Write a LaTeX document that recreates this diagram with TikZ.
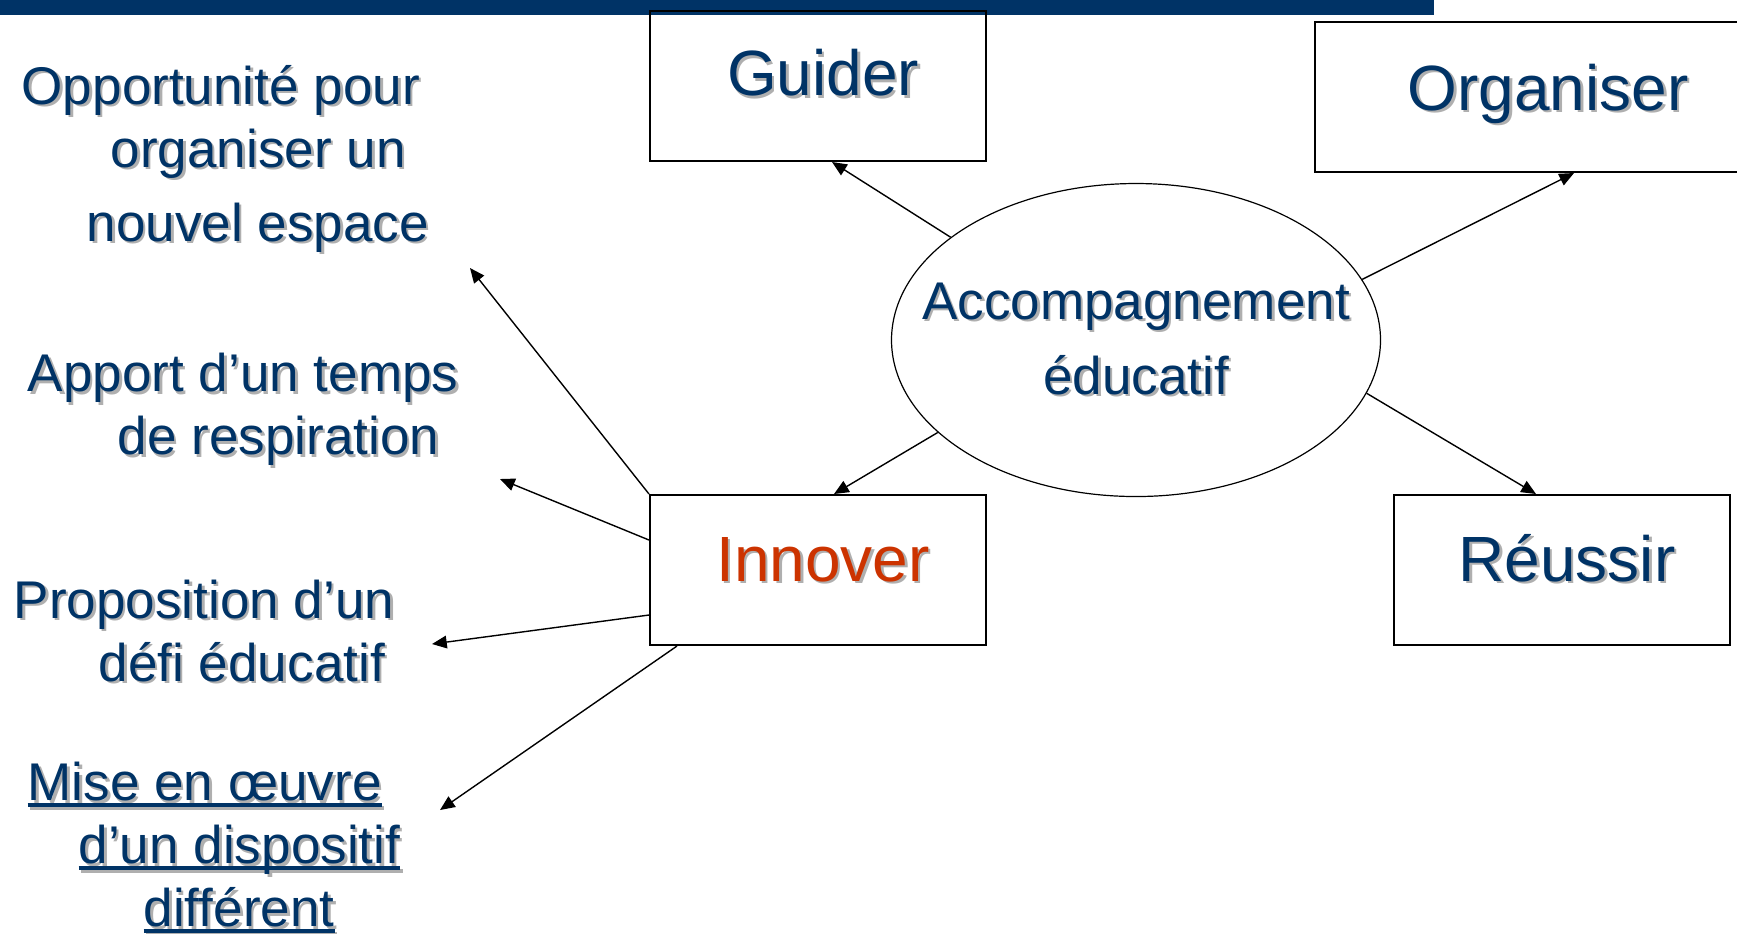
\documentclass[tikz,border=0pt]{standalone}
\usepackage{fontspec}
\setmainfont{Liberation Sans}
\usetikzlibrary{shapes.geometric,arrows.meta}
\definecolor{navy}{RGB}{0,51,102}
\definecolor{rouge}{RGB}{204,51,0}
\definecolor{ombre}{RGB}{175,175,175}
\newcommand\shd[1]{\leavevmode\rlap{\kern0.25mm\raisebox{-0.25mm}{\textcolor{ombre}{#1}}}#1}
\newcommand\souligne[1]{\setbox0\hbox{#1}\rlap{\rule[-0.12em]{\wd0}{0.07em}}\box0}
\begin{document}
\begin{tikzpicture}[x=0.1mm,y=-0.1mm,
    boite/.style={draw,line width=0.2mm,minimum width=33.6mm,minimum height=15mm,inner sep=0pt,text=navy,
        font=\fontsize{18.2pt}{20pt}\selectfont,text height=4.6mm,text depth=2.4mm,execute at begin node={\hspace*{1mm}}},
    texte/.style={align=left,anchor=west,inner sep=0pt,text=navy,font=\fontsize{15.1pt}{6.3mm}\selectfont},
    fleche/.style={-{Triangle[length=4.2pt,width=3.6pt]},line width=0.14mm}]
        \useasboundingbox (0,0) rectangle (1737,933);
        \fill[navy] (0,0) rectangle (1434,15); %bandeau
        \node[boite,text depth=2.7mm] (guider) at (818,86) {\shd{Guider}};
        \node[boite,minimum width=45.6mm,text depth=2mm] (organiser) at (1543,97) {\shd{Organiser}};
        \node[boite,text=rouge] (innover) at (818,570) {\shd{Innover}};
        \node[boite] (reussir) at (1562,570) {\shd{Réussir}};
        \node[ellipse,draw,line width=0.12mm,minimum width=48.9mm,minimum height=31.3mm,inner xsep=-6mm,inner ysep=-0.5mm,
            align=center,text=navy,font=\fontsize{15.1pt}{7.5mm}\selectfont] (accomp) at (1136,340)
            {\shd{Accompagnement}\\\shd{éducatif}}; %ellipse
        \draw[fleche] (accomp.151) -- ([xshift=1.4mm]guider.south);
        \draw[fleche] (accomp.15) -- ([xshift=3.1mm]organiser.south);
        \draw[fleche] (accomp.205) -- ([xshift=1.6mm]innover.north);
        \draw[fleche] (accomp.347) -- ([xshift=-2.6mm]reussir.north);
        % textes de gauche
        \node[texte] (opportunite) at (21,160) {\shd{Opportunité pour}\\\hspace*{8.9mm}\shd{organiser un}\\[1.1mm]\hspace*{6.5mm}\shd{nouvel espace}};
        \node[texte] (apport) at (27,411) {\shd{Apport d’un temps}\\\hspace*{9mm}\shd{de respiration}};
        \node[texte] (proposition) at (13,632) {\shd{Proposition d’un}\\\hspace*{8.5mm}\shd{défi éducatif}};
        \node[texte] (miseenoeuvre) at (27,849) {\shd{\souligne{Mise en œuvre}}\\\hspace*{5.1mm}\shd{\souligne{d’un dispositif}}\\\hspace*{11.6mm}\shd{\souligne{différent}}};
        \coordinate (p1) at (470,268);
        \coordinate (p2) at (500,479);
        \coordinate (p3) at (432,644);
        \coordinate (p4) at (440,810);
        \draw[fleche] (innover.north west) -- (p1);
        \draw[fleche] ([yshift=3mm]innover.west) -- (p2);
        \draw[fleche] ([yshift=-4.5mm]innover.west) -- (p3);
        \draw[fleche] ([xshift=2.8mm]innover.south west) -- (p4);
    \end{tikzpicture}
\end{document}
